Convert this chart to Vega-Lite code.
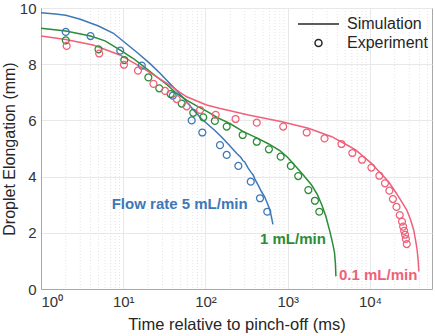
{
  "$schema": "https://vega.github.io/schema/vega-lite/v6.json",
  "width": 391,
  "height": 281,
  "autosize": "none",
  "padding": {"left": 41, "top": 8, "right": 3, "bottom": 47},
  "config": {
    "font": "Liberation Sans",
    "view": {"stroke": "#a8a8a8", "strokeWidth": 1},
    "axis": {
      "domainColor": "#a8a8a8",
      "gridColor": "#e8e8e8",
      "labelColor": "#333333",
      "titleColor": "#262626",
      "labelFontSize": 15,
      "titleFontSize": 16.5,
      "titleFontWeight": "normal",
      "ticks": false
    }
  },
  "datasets": {
    "minor": [
      {"t": 2}, {"t": 3}, {"t": 4}, {"t": 5}, {"t": 6}, {"t": 7}, {"t": 8}, {"t": 9},
      {"t": 20}, {"t": 30}, {"t": 40}, {"t": 50}, {"t": 60}, {"t": 70}, {"t": 80}, {"t": 90},
      {"t": 200}, {"t": 300}, {"t": 400}, {"t": 500}, {"t": 600}, {"t": 700}, {"t": 800}, {"t": 900},
      {"t": 2000}, {"t": 3000}, {"t": 4000}, {"t": 5000}, {"t": 6000}, {"t": 7000}, {"t": 8000}, {"t": 9000},
      {"t": 20000}, {"t": 30000}, {"t": 40000}, {"t": 50000}
    ],
    "sim": [
      {"rate": "5", "t": 1, "L": 9.83}, {"rate": "5", "t": 1.5, "L": 9.79}, {"rate": "5", "t": 2, "L": 9.74},
      {"rate": "5", "t": 3, "L": 9.6}, {"rate": "5", "t": 5, "L": 9.36}, {"rate": "5", "t": 7.6, "L": 9.1},
      {"rate": "5", "t": 11, "L": 8.72}, {"rate": "5", "t": 15, "L": 8.4}, {"rate": "5", "t": 21, "L": 8.03},
      {"rate": "5", "t": 28, "L": 7.68}, {"rate": "5", "t": 34, "L": 7.42}, {"rate": "5", "t": 45, "L": 7.05},
      {"rate": "5", "t": 54, "L": 6.8}, {"rate": "5", "t": 71, "L": 6.38}, {"rate": "5", "t": 90, "L": 6.05},
      {"rate": "5", "t": 103, "L": 5.9}, {"rate": "5", "t": 130, "L": 5.64}, {"rate": "5", "t": 160, "L": 5.38},
      {"rate": "5", "t": 200, "L": 5.08}, {"rate": "5", "t": 240, "L": 4.82}, {"rate": "5", "t": 270, "L": 4.68},
      {"rate": "5", "t": 285, "L": 4.57}, {"rate": "5", "t": 300, "L": 4.52}, {"rate": "5", "t": 330, "L": 4.3},
      {"rate": "5", "t": 360, "L": 4.14}, {"rate": "5", "t": 380, "L": 4.06}, {"rate": "5", "t": 400, "L": 3.9},
      {"rate": "5", "t": 440, "L": 3.68}, {"rate": "5", "t": 480, "L": 3.46}, {"rate": "5", "t": 520, "L": 3.3},
      {"rate": "5", "t": 560, "L": 3.08}, {"rate": "5", "t": 600, "L": 2.86}, {"rate": "5", "t": 630, "L": 2.6},
      {"rate": "5", "t": 660, "L": 2.3},
      {"rate": "1", "t": 1, "L": 9.28}, {"rate": "1", "t": 2, "L": 9.18}, {"rate": "1", "t": 4, "L": 9.0},
      {"rate": "1", "t": 6, "L": 8.83}, {"rate": "1", "t": 9, "L": 8.52}, {"rate": "1", "t": 13, "L": 8.22},
      {"rate": "1", "t": 17.5, "L": 7.93}, {"rate": "1", "t": 25, "L": 7.57}, {"rate": "1", "t": 34, "L": 7.27},
      {"rate": "1", "t": 45, "L": 6.95}, {"rate": "1", "t": 59, "L": 6.72}, {"rate": "1", "t": 80, "L": 6.5},
      {"rate": "1", "t": 103, "L": 6.33}, {"rate": "1", "t": 140, "L": 6.1}, {"rate": "1", "t": 200, "L": 5.88},
      {"rate": "1", "t": 288, "L": 5.6}, {"rate": "1", "t": 420, "L": 5.38}, {"rate": "1", "t": 580, "L": 5.17},
      {"rate": "1", "t": 810, "L": 4.92}, {"rate": "1", "t": 1000, "L": 4.68}, {"rate": "1", "t": 1200, "L": 4.42},
      {"rate": "1", "t": 1500, "L": 4.1}, {"rate": "1", "t": 1950, "L": 3.7}, {"rate": "1", "t": 2300, "L": 3.35},
      {"rate": "1", "t": 2590, "L": 3.0}, {"rate": "1", "t": 2900, "L": 2.6}, {"rate": "1", "t": 3250, "L": 2.05},
      {"rate": "1", "t": 3500, "L": 1.65}, {"rate": "1", "t": 3700, "L": 1.3}, {"rate": "1", "t": 3800, "L": 0.9},
      {"rate": "1", "t": 3850, "L": 0.45},
      {"rate": "0.1", "t": 1, "L": 9.0}, {"rate": "0.1", "t": 2, "L": 8.88}, {"rate": "0.1", "t": 4.3, "L": 8.68},
      {"rate": "0.1", "t": 9.1, "L": 8.33}, {"rate": "0.1", "t": 17.5, "L": 7.85}, {"rate": "0.1", "t": 34, "L": 7.32},
      {"rate": "0.1", "t": 59, "L": 6.84}, {"rate": "0.1", "t": 103, "L": 6.55}, {"rate": "0.1", "t": 147, "L": 6.43},
      {"rate": "0.1", "t": 333, "L": 6.19}, {"rate": "0.1", "t": 850, "L": 5.95}, {"rate": "0.1", "t": 1780, "L": 5.72},
      {"rate": "0.1", "t": 3430, "L": 5.42}, {"rate": "0.1", "t": 5000, "L": 5.16}, {"rate": "0.1", "t": 6690, "L": 4.95},
      {"rate": "0.1", "t": 10400, "L": 4.47}, {"rate": "0.1", "t": 13500, "L": 4.12}, {"rate": "0.1", "t": 17000, "L": 3.8},
      {"rate": "0.1", "t": 21000, "L": 3.4}, {"rate": "0.1", "t": 25000, "L": 3.05}, {"rate": "0.1", "t": 28000, "L": 2.81},
      {"rate": "0.1", "t": 31000, "L": 2.48}, {"rate": "0.1", "t": 34000, "L": 2.1}, {"rate": "0.1", "t": 36000, "L": 1.7},
      {"rate": "0.1", "t": 37400, "L": 1.39}, {"rate": "0.1", "t": 38500, "L": 1.03}, {"rate": "0.1", "t": 39300, "L": 0.62}
    ],
    "exp": [
      {"rate": "5", "t": 2, "L": 9.15}, {"rate": "5", "t": 4, "L": 9.0}, {"rate": "5", "t": 9.2, "L": 8.48},
      {"rate": "5", "t": 16.8, "L": 7.95}, {"rate": "5", "t": 40, "L": 6.88}, {"rate": "5", "t": 68, "L": 6.0},
      {"rate": "5", "t": 91.5, "L": 5.57}, {"rate": "5", "t": 150, "L": 5.12}, {"rate": "5", "t": 181, "L": 4.77},
      {"rate": "5", "t": 251, "L": 4.38}, {"rate": "5", "t": 355, "L": 3.82}, {"rate": "5", "t": 460, "L": 3.23},
      {"rate": "5", "t": 564, "L": 2.75},
      {"rate": "1", "t": 2, "L": 8.85}, {"rate": "1", "t": 5, "L": 8.53}, {"rate": "1", "t": 10.3, "L": 8.15},
      {"rate": "1", "t": 20.2, "L": 7.53}, {"rate": "1", "t": 27.4, "L": 7.14}, {"rate": "1", "t": 37.7, "L": 6.94},
      {"rate": "1", "t": 51.3, "L": 6.6}, {"rate": "1", "t": 71, "L": 6.27}, {"rate": "1", "t": 94, "L": 6.11},
      {"rate": "1", "t": 130, "L": 5.98}, {"rate": "1", "t": 181, "L": 5.78}, {"rate": "1", "t": 283, "L": 5.48},
      {"rate": "1", "t": 420, "L": 5.24}, {"rate": "1", "t": 590, "L": 4.97}, {"rate": "1", "t": 820, "L": 4.71},
      {"rate": "1", "t": 1090, "L": 4.38}, {"rate": "1", "t": 1340, "L": 4.02}, {"rate": "1", "t": 1780, "L": 3.52},
      {"rate": "1", "t": 2140, "L": 3.14}, {"rate": "1", "t": 2420, "L": 2.75},
      {"rate": "0.1", "t": 2.05, "L": 8.65}, {"rate": "0.1", "t": 5.1, "L": 8.38}, {"rate": "0.1", "t": 10.2, "L": 7.98},
      {"rate": "0.1", "t": 15.1, "L": 7.77}, {"rate": "0.1", "t": 23.3, "L": 7.3}, {"rate": "0.1", "t": 32.2, "L": 7.05},
      {"rate": "0.1", "t": 44.7, "L": 6.76}, {"rate": "0.1", "t": 59, "L": 6.5}, {"rate": "0.1", "t": 86, "L": 6.37},
      {"rate": "0.1", "t": 133, "L": 6.2}, {"rate": "0.1", "t": 232, "L": 6.05}, {"rate": "0.1", "t": 420, "L": 5.92},
      {"rate": "0.1", "t": 880, "L": 5.78}, {"rate": "0.1", "t": 1700, "L": 5.57}, {"rate": "0.1", "t": 2800, "L": 5.36},
      {"rate": "0.1", "t": 4500, "L": 5.16}, {"rate": "0.1", "t": 6100, "L": 4.84}, {"rate": "0.1", "t": 8000, "L": 4.6},
      {"rate": "0.1", "t": 10400, "L": 4.32}, {"rate": "0.1", "t": 13000, "L": 4.03}, {"rate": "0.1", "t": 15200, "L": 3.76},
      {"rate": "0.1", "t": 17200, "L": 3.5}, {"rate": "0.1", "t": 19000, "L": 3.2}, {"rate": "0.1", "t": 21000, "L": 2.92},
      {"rate": "0.1", "t": 23000, "L": 2.63}, {"rate": "0.1", "t": 24500, "L": 2.4}, {"rate": "0.1", "t": 25300, "L": 2.22},
      {"rate": "0.1", "t": 26000, "L": 2.07}, {"rate": "0.1", "t": 26700, "L": 1.93}, {"rate": "0.1", "t": 27300, "L": 1.78},
      {"rate": "0.1", "t": 28000, "L": 1.6}
    ],
    "labels": [
      {"rate": "5", "t": 7.24, "L": 3.02, "label": "Flow rate 5 mL/min"},
      {"rate": "1", "t": 460, "L": 1.78, "label": "1 mL/min"},
      {"rate": "0.1", "t": 4200, "L": 0.5, "label": "0.1 mL/min"}
    ],
    "kinds": [{"type": "Simulation"}, {"type": "Experiment"}]
  },
  "layer": [
    {
      "data": {"name": "minor"},
      "mark": {"type": "rule", "color": "#e4e4e4", "strokeDash": [1, 2], "strokeWidth": 1},
      "encoding": {
        "x": {
          "field": "t", "type": "quantitative",
          "scale": {"type": "log", "domain": [1, 56750], "nice": false},
          "axis": {
            "title": "Time relative to pinch-off (ms)",
            "values": [1, 10, 100, 1000, 10000],
            "labelExpr": "datum.value == 1 ? '10⁰' : datum.value == 10 ? '10¹' : datum.value == 100 ? '10²' : datum.value == 1000 ? '10³' : '10⁴'",
            "labelPadding": 5,
            "titlePadding": 7,
            "grid": true
          }
        }
      }
    },
    {
      "data": {"name": "sim"},
      "mark": {"type": "line", "strokeWidth": 1.5},
      "encoding": {
        "x": {
          "field": "t", "type": "quantitative",
          "scale": {"type": "log", "domain": [1, 56750], "nice": false},
          "axis": {
            "title": "Time relative to pinch-off (ms)",
            "values": [1, 10, 100, 1000, 10000],
            "labelExpr": "datum.value == 1 ? '10⁰' : datum.value == 10 ? '10¹' : datum.value == 100 ? '10²' : datum.value == 1000 ? '10³' : '10⁴'",
            "labelPadding": 5,
            "titlePadding": 7,
            "grid": true
          }
        },
        "y": {
          "field": "L", "type": "quantitative",
          "scale": {"domain": [0, 10], "nice": false},
          "axis": {
            "title": "Droplet Elongation (mm)",
            "values": [0, 2, 4, 6, 8, 10],
            "labelPadding": 5,
            "titlePadding": 2,
            "titleFontSize": 16,
            "grid": true
          }
        },
        "color": {
          "field": "rate", "type": "nominal",
          "scale": {"domain": ["5", "1", "0.1"], "range": ["#3d78b8", "#2a8c36", "#f0607a"]},
          "legend": null
        }
      }
    },
    {
      "data": {"name": "exp"},
      "mark": {"type": "point", "filled": false, "size": 48, "strokeWidth": 1.25, "opacity": 1},
      "encoding": {
        "x": {"field": "t", "type": "quantitative"},
        "y": {"field": "L", "type": "quantitative"},
        "color": {"field": "rate", "type": "nominal", "legend": null}
      }
    },
    {
      "data": {"name": "labels"},
      "mark": {"type": "text", "align": "left", "baseline": "middle", "fontSize": 15, "fontWeight": "bold"},
      "encoding": {
        "x": {"field": "t", "type": "quantitative"},
        "y": {"field": "L", "type": "quantitative"},
        "text": {"field": "label"},
        "color": {"field": "rate", "type": "nominal", "legend": null}
      }
    },
    {
      "data": {"name": "kinds"},
      "mark": {"type": "point", "filled": false, "color": "#262626", "opacity": 0},
      "encoding": {
        "shape": {
          "field": "type", "type": "nominal",
          "scale": {"domain": ["Simulation", "Experiment"], "range": ["M-5.86,0H5.86", "circle"]},
          "legend": {
            "title": null,
            "orient": "none",
            "legendX": 269.5,
            "legendY": 8,
            "padding": 0,
            "symbolSize": 49,
            "symbolStrokeWidth": 1.5,
            "symbolStrokeColor": "#262626",
            "symbolFillColor": "transparent",
            "symbolOpacity": 1,
            "labelFontSize": 16,
            "labelColor": "#262626",
            "labelOffset": 20.5,
            "rowPadding": 3
          }
        }
      }
    }
  ]
}
